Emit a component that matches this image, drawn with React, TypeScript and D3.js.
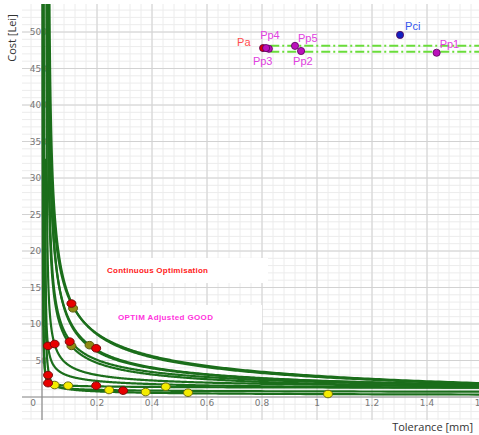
import React from 'react';
import * as d3 from 'd3';

// cost-tolerance curves: cost = a + b*(t - shift)^-pow + tail*t^-tailPow
const curveA = [-25, -20, 0, 2, 0, 0, 10, 8, 10.5, 4.5, 1];
const curveB = [53.5, 47, 22.2, 20, 20.5, 18, 6.94, 5.98, 1.8e-5, 1.78e-3, 1e-4];
const curveShift = [0.02, 0.022, 0.015, 0.017, 0.02, 0.018, 0.015, 0.012, 0, 0, 0];
const curvePow = [0.43, 0.47, 0.63, 0.65, 0.53, 0.56, 0.63, 0.508, 3, 2.5, 2.5];
const curveTail = [0, 0, 0, 0, 0, 0, 0, 0, 2.5, 3.2, 3];
const curveTailPow = [0, 0, 0, 0, 0, 0, 0, 0, 0.3, 0.3, 0.5];

// optimisation results
const redX = [0.107, 0.022, 0.046, 0.1007, 0.197, 0.022, 0.022, 0.197, 0.295];
const redY = [128, 70, 72.6, 75.8, 66.7, 30, 19, 15.5, 8.7];
const oliveX = [0.113, 0.107, 0.173];
const oliveY = [121.5, 70, 71];
const yellowX = [0.046, 0.095, 0.244, 0.377, 0.45, 0.531, 1.04];
const yellowY = [16.4, 15.5, 9.6, 6.8, 14.1, 5.9, 4.1];

// named points at the top
const topNames = ['Pa', 'Pp3', 'Pp4', 'Pp5', 'Pp2', 'Pci', 'Pp1'];
const topX = [0.804, 0.825, 0.815, 0.92, 0.942, 1.302, 1.435];
const topY = [478, 477, 478, 481, 474, 496, 471.6];
const lineLevels = [481, 473];
const lineStart = 0.83;

const xTicks = [0, 0.2, 0.4, 0.6, 0.8, 1, 1.2, 1.4, 1.6];
const yTicks = [50, 100, 150, 200, 250, 300, 350, 400, 450, 500];

const width = 479;
const height = 435;

const labelStyle: Record<string, { dx: number; dy: number; color: string; fill: string }> = {
  Pa: { dx: -26, dy: -2, color: '#ff4d4d', fill: '#dd0000' },
  Pp3: { dx: -16, dy: 16, color: '#e040e0', fill: '#bb10bb' },
  Pp4: { dx: -6, dy: -9, color: '#e040e0', fill: '#bb10bb' },
  Pp5: { dx: 3, dy: -4, color: '#e040e0', fill: '#bb10bb' },
  Pp2: { dx: -8, dy: 14, color: '#e040e0', fill: '#bb10bb' },
  Pci: { dx: 5, dy: -5, color: '#3355ee', fill: '#1020c0' },
  Pp1: { dx: 3, dy: -5, color: '#e040e0', fill: '#bb10bb' },
};

function costAt(i: number, t: number) {
  const d = t - curveShift[i];
  if (d <= 0) return 2000;
  let v = curveA[i] + curveB[i] * Math.pow(d, -curvePow[i]);
  if (curveTail[i] > 0) v += curveTail[i] * Math.pow(t, -curveTailPow[i]);
  return Math.min(v, 2000);
}

export default function App() {
  const x = d3.scaleLinear().domain([0, 1.6]).range([42, 482]);
  const y = d3.scaleLinear().domain([0, 500]).range([397, 32]);

  const plotLeft = 22;
  const plotTop = 4;
  const plotBottom = 420;

  const minorX = d3.range(-0.08, 1.62, 0.04);
  const minorY = d3.range(-30, 541, 10);
  const majorX = d3.range(-0.2, 1.62, 0.2).filter((v) => Math.abs(v) > 1e-6);
  const majorY = d3.range(-50, 541, 50).filter((v) => Math.abs(v) > 1e-6);

  const line = d3
    .line<number>()
    .x((d) => d[0])
    .y((d) => d[1])
    .curve(d3.curveLinear) as any;

  const curvePaths = curveA.map((_, i) => {
    const t0 = curveShift[i] + 0.0004;
    const samples = d3.range(0, 400).map((k) => t0 * Math.pow(1.65 / t0, k / 399));
    const pts = samples.map((t) => [x(t), y(costAt(i, t))]);
    return line(pts);
  });

  return (
    <svg width={width} height={height} style={{ display: 'block', position: 'absolute', left: 0, top: 0 }}>
      <defs>
        <clipPath id="plot">
          <rect x={plotLeft} y={plotTop} width={width - plotLeft} height={plotBottom - plotTop} />
        </clipPath>
      </defs>
      <rect x={0} y={0} width={width} height={height} fill="#fff" />
      <g clipPath="url(#plot)">
        {minorX.map((v, i) => (
          <line key={'mx' + i} x1={x(v)} x2={x(v)} y1={plotTop} y2={plotBottom} stroke="#ececec" strokeWidth={1} />
        ))}
        {minorY.map((v, i) => (
          <line key={'my' + i} x1={plotLeft} x2={width} y1={y(v)} y2={y(v)} stroke="#ececec" strokeWidth={1} />
        ))}
        {majorX.map((v, i) => (
          <line key={'Mx' + i} x1={x(v)} x2={x(v)} y1={plotTop} y2={plotBottom} stroke="#d2d2d2" strokeWidth={1} />
        ))}
        {majorY.map((v, i) => (
          <line key={'My' + i} x1={plotLeft} x2={width} y1={y(v)} y2={y(v)} stroke="#d2d2d2" strokeWidth={1} />
        ))}
      </g>

      {/* annotation boxes */}
      <rect x={98} y={258} width={170} height={25} fill="#fff" />
      <rect x={98} y={305} width={164} height={25} fill="#fff" />
      <text x={107} y={273} fill="#ff1a1a" fontSize={8} fontWeight="bold" fontFamily="Liberation Sans, Arial, sans-serif" textLength={101}>
        Continuous Optimisation
      </text>
      <text x={118} y={320} fill="#ff33dd" fontSize={8} fontWeight="bold" fontFamily="Liberation Sans, Arial, sans-serif" textLength={95}>
        OPTIM Adjusted GOOD
      </text>

      {/* axes */}
      <line x1={plotLeft} x2={width} y1={y(0)} y2={y(0)} stroke="#8a8a8a" strokeWidth={1.2} />
      <line x1={x(0)} x2={x(0)} y1={plotTop} y2={plotBottom} stroke="#8a8a8a" strokeWidth={1.2} />

      {xTicks.map((v) => (
        <text
          key={'xt' + v}
          x={v === 0 ? 33 : x(v)}
          y={406}
          fontSize={9}
          fill="#777"
          textAnchor="middle"
          fontFamily="DejaVu Sans, sans-serif"
        >
          {v === 0 ? '0' : d3.format('.1f')(v).replace(/\.0$/, '')}
        </text>
      ))}
      {yTicks.map((v) => (
        <text
          key={'yt' + v}
          x={47}
          y={y(v)}
          dy="0.35em"
          fontSize={9}
          fill="#777"
          textAnchor="end"
          fontFamily="DejaVu Sans, sans-serif"
        >
          {v}
        </text>
      ))}

      <text
        transform="translate(16,38) rotate(-90)"
        textAnchor="middle"
        fontSize={11}
        fill="#333"
        fontFamily="Open Sans, DejaVu Sans, sans-serif"
      >
        Cost [Lei]
      </text>
      <text x={473} y={431} textAnchor="end" fontSize={11} fill="#333" fontFamily="Open Sans, DejaVu Sans, sans-serif">
        Tolerance [mm]
      </text>

      {/* curves */}
      <g clipPath="url(#plot)">
        {curvePaths.map((p, i) => (
          <path key={'c' + i} d={p} fill="none" stroke="#1b6e1b" strokeWidth={2.2} />
        ))}

        {lineLevels.map((lv, i) => (
          <line
            key={'dl' + i}
            x1={x(lineStart)}
            x2={width}
            y1={y(lv)}
            y2={y(lv)}
            stroke="#6add3a"
            strokeWidth={2}
            strokeDasharray="9,3,2,3"
          />
        ))}

        {yellowX.map((v, i) => (
          <ellipse key={'yp' + i} cx={x(v)} cy={y(yellowY[i])} rx={4.5} ry={3.8} fill="#f4ec00" stroke="#6b6b10" strokeWidth={1} />
        ))}
        {oliveX.map((v, i) => (
          <ellipse key={'op' + i} cx={x(v)} cy={y(oliveY[i])} rx={4.5} ry={3.8} fill="#8e8a12" stroke="#5a5a10" strokeWidth={1} />
        ))}
        {redX.map((v, i) => (
          <ellipse key={'rp' + i} cx={x(v)} cy={y(redY[i])} rx={4.5} ry={3.8} fill="#e80000" stroke="#7a0a0a" strokeWidth={1} />
        ))}

        {topNames.map((n, i) => {
          const s = labelStyle[n];
          return (
            <g key={'tp' + n}>
              <circle cx={x(topX[i])} cy={y(topY[i])} r={3.6} fill={s.fill} stroke="#550055" strokeWidth={0.8} />
            </g>
          );
        })}
        {topNames.map((n, i) => {
          const s = labelStyle[n];
          return (
            <text
              key={'tl' + n}
              x={x(topX[i]) + s.dx}
              y={y(topY[i]) + s.dy}
              fontSize={11}
              fill={s.color}
              fontFamily="Liberation Sans, Arial, sans-serif"
            >
              {n}
            </text>
          );
        })}
      </g>
    </svg>
  );
}
